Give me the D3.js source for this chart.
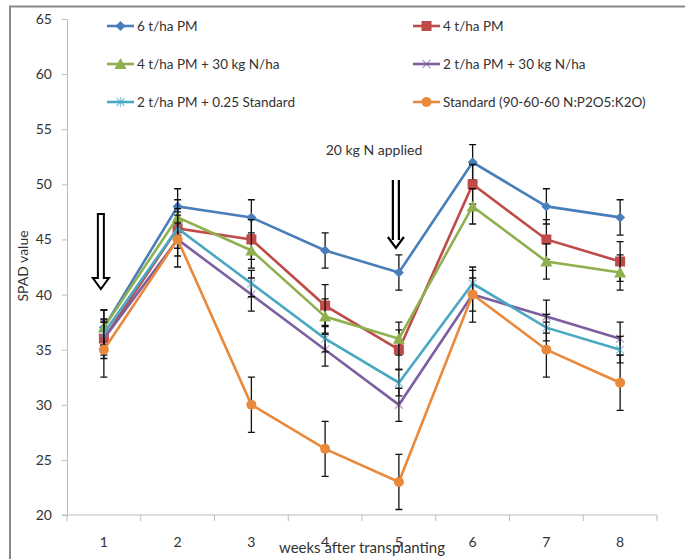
<!DOCTYPE html>
<html><head><meta charset="utf-8">
<script src="https://cdn.jsdelivr.net/npm/d3@7"></script>
<style>
body{margin:0;background:#fff;}
text{font-family:Lato,"Open Sans",sans-serif;fill:#333;}
</style></head>
<body><svg id="c" width="685" height="559"></svg>
<script>
const weeks = [1,2,3,4,5,6,7,8];
const yTicks = [20,25,30,35,40,45,50,55,60,65];
const seriesNames = ["6 t/ha PM","4 t/ha PM","4 t/ha PM + 30 kg N/ha","2 t/ha PM +  30 kg N/ha","2 t/ha PM + 0.25 Standard","Standard  (90-60-60 N:P2O5:K2O)"];
const colors = ["#4a7ebb","#be4b48","#8fb04e","#7d5fa0","#4aa8c2","#e8893c"];
const markers = ["diamond","square","triangle","x","star","circle"];
const v6PM      = [37,48,47,44,42,52,48,47];
const v4PM      = [36,46,45,39,35,50,45,43];
const v4PM30N   = [37,47,44,38,36,48,43,42];
const v2PM30N   = [36,45,40,35,30,40,38,36];
const v2PMStd   = [36.5,46,41,36,32,41,37,35];
const vStd      = [35,45,30,26,23,40,35,32];
const e6PM      = [1.6,1.6,1.6,1.6,1.6,1.6,1.6,1.6];
const e4PM      = [1.8,1.8,1.8,1.9,1.8,1.8,1.8,1.8];
const e4PM30N   = [1.6,1.6,1.6,1.6,1.5,1.6,1.6,1.6];
const e2PM30N   = [1.5,1.5,1.5,1.5,1.5,1.5,1.5,1.5];
const e2PMStd   = [1.2,1.2,1.2,1.2,1.2,1.2,1.2,1.2];
const eStd      = [2.5,2.5,2.5,2.5,2.5,2.5,2.5,2.5];
const values = [v6PM,v4PM,v4PM30N,v2PM30N,v2PMStd,vStd];
const errors = [e6PM,e4PM,e4PM30N,e2PM30N,e2PMStd,eStd];

const svg = d3.select("#c");
// outer frame
svg.append("path").attr("d","M10,559 V6.5 H685").attr("fill","none").attr("stroke","#888").attr("stroke-width",2);

const x = d3.scaleBand().domain(weeks).range([67,657]);
const y = d3.scaleLinear().domain([20,65]).range([515,19]);
const cx = w => x(w) + x.bandwidth()/2;

// y axis
const ya = svg.append("g").attr("transform","translate(67,0)")
  .call(d3.axisLeft(y).tickValues(yTicks).tickSize(5).tickSizeOuter(0).tickPadding(10));
ya.select(".domain").attr("stroke","#bbb");
ya.selectAll(".tick line").attr("stroke","#bbb");
ya.selectAll(".tick text").attr("font-size",14).attr("fill","#333").style("font-family","Lato, sans-serif");

// x axis
const xa = svg.append("g").attr("transform","translate(0,515)")
  .call(d3.axisBottom(x).tickSize(0).tickSizeOuter(0).tickPadding(22));
xa.select(".domain").attr("stroke","#bbb").attr("d","M62,0 H657");
xa.selectAll(".tick text").attr("font-size",14).attr("fill","#333").style("font-family","Lato, sans-serif");
xa.selectAll(".xt").data(weeks.concat(["end"])).enter().append("line")
  .attr("x1",d=>d==="end"?657:x(d)).attr("x2",d=>d==="end"?657:x(d))
  .attr("y1",0).attr("y2",6).attr("stroke","#bbb");

// axis titles
svg.append("text").attr("x",362).attr("y",553).attr("text-anchor","middle").attr("font-size",15).text("weeks after transplanting");
svg.append("text").attr("transform","translate(28,266) rotate(-90)").attr("text-anchor","middle").attr("font-size",14).text("SPAD value");

// marker drawing
function drawMarker(g, type, color, px, py){
  if(type==="diamond"){
    g.append("path").attr("d",`M${px},${py-5} L${px+5},${py} L${px},${py+5} L${px-5},${py} Z`).attr("fill",color);
  } else if(type==="square"){
    g.append("rect").attr("x",px-5).attr("y",py-5).attr("width",10).attr("height",10).attr("fill",color);
  } else if(type==="triangle"){
    g.append("path").attr("d",`M${px},${py-6} L${px+6},${py+5} L${px-6},${py+5} Z`).attr("fill",color);
  } else if(type==="circle"){
    g.append("circle").attr("cx",px).attr("cy",py).attr("r",5).attr("fill",color);
  } else if(type==="x"){
    g.append("path").attr("d",`M${px-4},${py-4} L${px+4},${py+4} M${px-4},${py+4} L${px+4},${py-4}`).attr("stroke",color).attr("stroke-width",1.2).attr("opacity",0.6);
  } else if(type==="star"){
    g.append("path").attr("d",`M${px-4},${py-4} L${px+4},${py+4} M${px-4},${py+4} L${px+4},${py-4} M${px},${py-5} L${px},${py+5}`).attr("stroke",color).attr("stroke-width",1.2).attr("opacity",0.6);
  }
}

const line = d3.line().x((d,i)=>cx(weeks[i])).y(d=>y(d));
const plot = svg.append("g");
values.forEach((vals,s)=>{
  const g = plot.append("g");
  g.append("path").datum(vals).attr("d",line).attr("fill","none").attr("stroke",colors[s]).attr("stroke-width",2.6);
  // error bars
  vals.forEach((v,i)=>{
    const px = cx(weeks[i]), e = errors[s][i];
    g.append("path").attr("d",`M${px},${y(v+e)} V${y(v-e)} M${px-3.5},${y(v+e)} H${px+3.5} M${px-3.5},${y(v-e)} H${px+3.5}`)
      .attr("stroke","#111").attr("stroke-width",1.3).attr("fill","none");
  });
  vals.forEach((v,i)=>drawMarker(g, markers[s], colors[s], cx(weeks[i]), y(v)));
});

// legend
const legX = [107,413], legY = [26,64,102];
seriesNames.forEach((n,s)=>{
  const col = s%2, row = Math.floor(s/2);
  const lx = legX[col], ly = legY[row];
  const g = svg.append("g");
  g.append("line").attr("x1",lx).attr("x2",lx+27).attr("y1",ly).attr("y2",ly).attr("stroke",colors[s]).attr("stroke-width",2.6);
  drawMarker(g, markers[s], colors[s], lx+13.5, ly);
  g.append("text").attr("x",lx+30).attr("y",ly+5).attr("font-size",13.5).text(n);
});

// annotations
const a1x = cx(1)-3, a1top = 214, a1tip = 289;
svg.append("path").attr("d",`M${a1x-3},${a1top} H${a1x+3} V${a1tip-11} H${a1x+8} L${a1x},${a1tip} L${a1x-8},${a1tip-11} H${a1x-3} Z`)
  .attr("fill","#fff").attr("stroke","#000").attr("stroke-width",2);
const a2x = cx(5)-3, a2top = 180, a2tip = 248;
svg.append("path").attr("d",`M${a2x-3},${a2top} V${a2tip-8} M${a2x+3},${a2top} V${a2tip-8} M${a2x-8},${a2tip-11} L${a2x},${a2tip} L${a2x+8},${a2tip-11}`)
  .attr("fill","none").attr("stroke","#000").attr("stroke-width",2.2);
svg.append("text").attr("x",374).attr("y",155).attr("text-anchor","middle").attr("font-size",14).text("20 kg N applied");
</script></body></html>
